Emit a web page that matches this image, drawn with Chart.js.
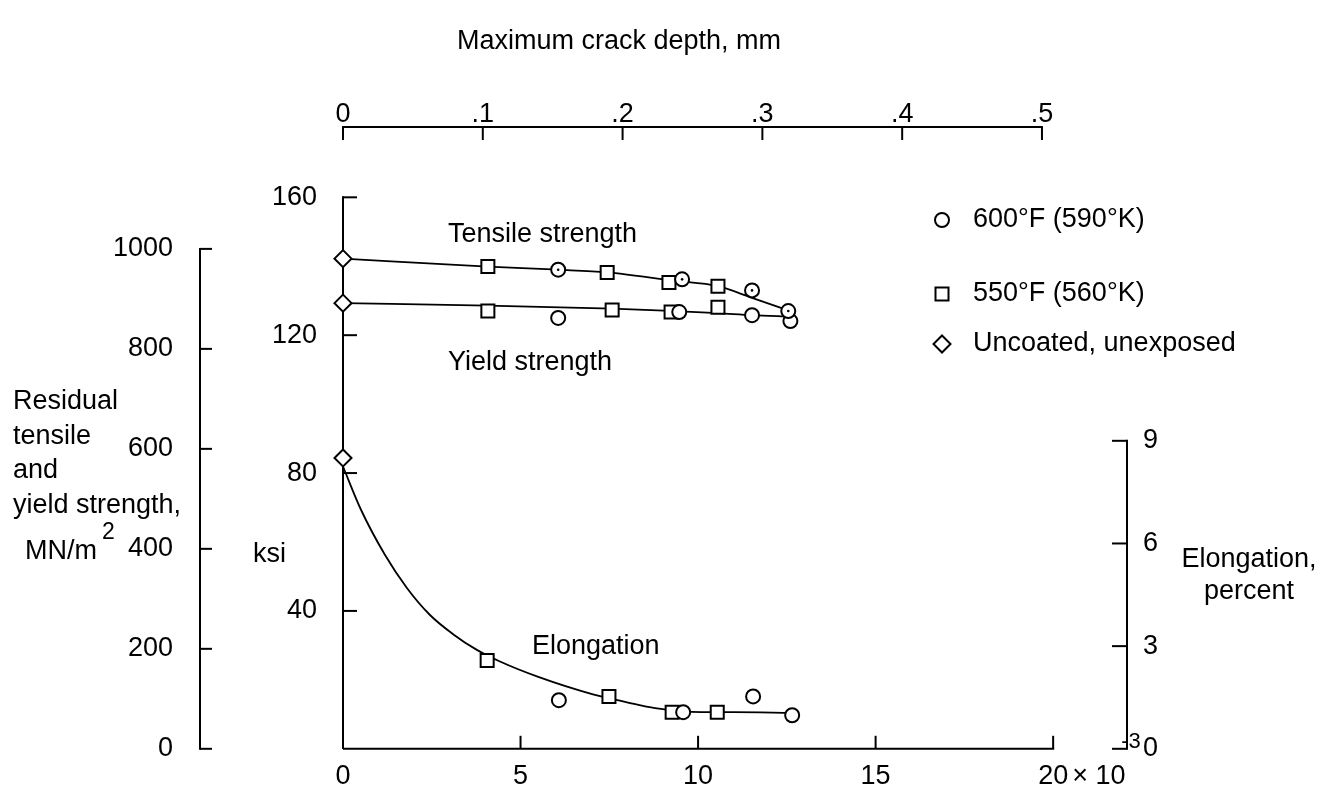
<!DOCTYPE html>
<html>
<head>
<meta charset="utf-8">
<title>Residual strength and elongation vs crack depth</title>
<script src="https://cdn.jsdelivr.net/npm/chart.js@4.4.1/dist/chart.umd.min.js"></script>
<style>
  html, body { margin: 0; padding: 0; background: #fff; }
  #wrap { width: 1321px; height: 792px; }
</style>
</head>
<body>
<div id="wrap"><canvas id="chart" width="1321" height="792"></canvas></div>
<script>
// Tick values of every scale
var xTickValues = [0, 5, 10, 15, 20];          // crack depth, 10^-3 in.
var mmTickValues = [0, 0.1, 0.2, 0.3, 0.4, 0.5]; // crack depth, mm
var ksiTickValues = [40, 80, 120, 160];
var mnTickValues = [0, 200, 400, 600, 800, 1000];
var elongTickValues = [0, 3, 6, 9];

// 600 F (590 K) specimens - circles
var c600TensileX = [6.06, 9.55, 11.52, 12.54];
var c600Tensile = [139.0, 136.2, 133.0, 127.0];
var c600YieldX = [6.06, 9.47, 11.52, 12.6];
var c600Yield = [125.0, 126.7, 125.8, 124.1];
var c600ElongX = [6.08, 9.58, 11.55, 12.65];
var c600Elong = [1.42, 1.07, 1.53, 0.98];

// 550 F (560 K) specimens - squares
var c550TensileX = [4.08, 7.44, 9.18, 10.56];
var c550Tensile = [139.9, 138.2, 135.3, 134.2];
var c550YieldX = [4.08, 7.58, 9.24, 10.56];
var c550Yield = [127.0, 127.3, 126.7, 128.1];
var c550ElongX = [4.06, 7.49, 9.27, 10.54];
var c550Elong = [2.58, 1.53, 1.07, 1.07];

// uncoated, unexposed - diamonds at zero crack depth
var baseX = [0];
var baseTensile = [142.2];
var baseYield = [129.3];
var baseElong = [8.5];

// faired curves
var tensileFitX = [0, 4.08, 6.06, 7.44, 9.3, 10.56, 11.5, 12.54];
var tensileFit = [142.2, 139.9, 139.0, 138.2, 135.8, 134.2, 130.9, 127.2];
var yieldFitX = [0, 4.08, 7.58, 9.3, 10.56, 11.52, 12.6];
var yieldFit = [129.3, 128.6, 127.7, 127.0, 126.4, 125.8, 125.4];
var elongFitX = [0, 0.5, 1.18, 1.8, 2.45, 3.1, 3.77, 4.42, 5.5, 7.04, 8.0, 8.79, 10.1, 11.0, 12.65];
var elongFit = [8.25, 7.0, 5.67, 4.7, 3.91, 3.35, 2.89, 2.55, 2.1, 1.59, 1.36, 1.19, 1.07, 1.07, 1.05];

// scale ranges (axes are drawn only over the ticked part)
var xMax = 22.08;
var ksiMax = 180.4;
var elongMax = 18.17;
var KSI_TO_MN = 6.89476;
var IN_TO_MM = 0.0254; // 10^-3 in. -> mm

var FONT = "'Liberation Sans', Arial, sans-serif";
Chart.defaults.font.family = FONT;
Chart.defaults.font.size = 27;
Chart.defaults.color = "#000";

function pts(xs, ys) {
  return xs.map(function (x, i) {
    return { x: x, y: ys[i] };
  });
}

function fitLine(xs, ys, axis) {
  return {
    data: pts(xs, ys),
    yAxisID: axis,
    showLine: true,
    borderColor: "#000",
    borderWidth: 1.8,
    pointRadius: 0,
    cubicInterpolationMode: "monotone",
    clip: false,
    order: 3,
  };
}

function marks(xs, ys, axis, style, r) {
  return {
    data: pts(xs, ys),
    yAxisID: axis,
    showLine: false,
    pointStyle: style,
    pointRadius: r,
    pointBackgroundColor: "#fff",
    pointBorderColor: "#000",
    pointBorderWidth: 2,
    clip: false,
    order: 2,
  };
}

function fixedTicks(values) {
  return function (scale) {
    scale.ticks = values.map(function (v) {
      return { value: v };
    });
  };
}

function line(ctx, x1, y1, x2, y2) {
  ctx.beginPath();
  ctx.moveTo(x1, y1);
  ctx.lineTo(x2, y2);
  ctx.stroke();
}

function text(ctx, str, x, y, align, size) {
  ctx.font = (size || 27) + "px " + FONT;
  ctx.textAlign = align || "left";
  ctx.textBaseline = "middle";
  ctx.fillText(str, x, y);
}

// axis lines, ticks and annotations drawn the drafting way
var drafting = {
  id: "drafting",
  beforeDatasetsDraw: function (chart) {
    var ctx = chart.ctx;
    var s = chart.scales;
    ctx.save();
    ctx.strokeStyle = "#000";
    ctx.lineWidth = 2;

    // ksi axis
    var xk = s.x.getPixelForValue(0);
    line(ctx, xk, s.ksi.getPixelForValue(160) - 1, xk, s.ksi.getPixelForValue(0));
    ksiTickValues.forEach(function (v) {
      var py = s.ksi.getPixelForValue(v);
      line(ctx, xk, py, xk + 14, py);
    });

    // MN/m2 axis
    var xm = s.mn.right;
    line(ctx, xm, s.mn.getPixelForValue(1000) - 1, xm, s.mn.getPixelForValue(0) + 1);
    mnTickValues.forEach(function (v) {
      var py = s.mn.getPixelForValue(v);
      line(ctx, xm, py, xm + 12, py);
    });

    // elongation axis
    var xe = s.elong.left;
    line(ctx, xe, s.elong.getPixelForValue(9) - 1, xe, s.elong.getPixelForValue(0) + 1);
    elongTickValues.forEach(function (v) {
      var py = s.elong.getPixelForValue(v);
      line(ctx, xe, py, xe - 15, py);
    });

    // bottom axis
    var yb = s.x.top;
    line(ctx, s.x.getPixelForValue(0), yb, s.x.getPixelForValue(20) + 1, yb);
    xTickValues.forEach(function (v) {
      var px = s.x.getPixelForValue(v);
      line(ctx, px, yb, px, yb - 13);
    });

    // top axis
    var yt = s.mm.bottom;
    line(ctx, s.mm.getPixelForValue(0) - 1, yt, s.mm.getPixelForValue(0.5) + 1, yt);
    mmTickValues.forEach(function (v) {
      var px = s.mm.getPixelForValue(v);
      line(ctx, px, yt, px, yt + 13);
    });
    ctx.restore();
  },
  afterDraw: function (chart) {
    var ctx = chart.ctx;
    var s = chart.scales;
    ctx.save();
    ctx.fillStyle = "#000";
    ctx.strokeStyle = "#000";
    ctx.lineWidth = 2;

    text(ctx, "Maximum crack depth, mm", 457, 42);

    // exponent after the last bottom label
    var x20 = s.x.getPixelForValue(20);
    text(ctx, "\u00d7 10", x20 + 19, 777);
    text(ctx, "-3", x20 + 68, 742, "left", 22);

    // curve labels
    text(ctx, "Tensile strength", 448, 235);
    text(ctx, "Yield strength", 448, 363);
    text(ctx, "Elongation", 532, 647);

    // left axis titles
    text(ctx, "ksi", 253, 555);
    text(ctx, "Residual", 13, 402);
    text(ctx, "tensile", 13, 437);
    text(ctx, "and", 13, 471);
    text(ctx, "yield strength,", 13, 506);
    text(ctx, "MN/m", 25, 552);
    text(ctx, "2", 102, 533, "left", 23);

    // right axis title
    text(ctx, "Elongation,", 1249, 560, "center");
    text(ctx, "percent", 1249, 592, "center");

    // legend
    var lx = 942;
    ctx.fillStyle = "#fff";
    ctx.beginPath();
    ctx.arc(lx, 220, 7, 0, Math.PI * 2);
    ctx.fill();
    ctx.stroke();
    ctx.fillRect(lx - 6.5, 287.5, 13, 13);
    ctx.strokeRect(lx - 6.5, 287.5, 13, 13);
    ctx.beginPath();
    ctx.moveTo(lx, 335.5);
    ctx.lineTo(lx + 8.5, 344);
    ctx.lineTo(lx, 352.5);
    ctx.lineTo(lx - 8.5, 344);
    ctx.closePath();
    ctx.fill();
    ctx.stroke();
    ctx.fillStyle = "#000";
    text(ctx, "600\u00b0F (590\u00b0K)", 973, 220);
    text(ctx, "550\u00b0F (560\u00b0K)", 973, 294);
    text(ctx, "Uncoated, unexposed", 973, 344);
    ctx.restore();
  },
};

var ctx = document.getElementById("chart").getContext("2d");
new Chart(ctx, {
  type: "scatter",
  data: {
    datasets: [
      fitLine(tensileFitX, tensileFit, "ksi"),
      fitLine(yieldFitX, yieldFit, "ksi"),
      fitLine(elongFitX, elongFit, "elong"),
      marks(c600TensileX, c600Tensile, "ksi", "circle", 7),
      marks(c600YieldX, c600Yield, "ksi", "circle", 7),
      marks(c600ElongX, c600Elong, "elong", "circle", 7),
      marks(c550TensileX, c550Tensile, "ksi", "rect", 9.2),
      marks(c550YieldX, c550Yield, "ksi", "rect", 9.2),
      marks(c550ElongX, c550Elong, "elong", "rect", 9.2),
      marks(baseX, baseTensile, "ksi", "rectRot", 8.5),
      marks(baseX, baseYield, "ksi", "rectRot", 8.5),
      marks(baseX, baseElong, "elong", "rectRot", 8.5),
      // centre dots of the tensile-strength circles
      {
        data: pts(c600TensileX, c600Tensile),
        yAxisID: "ksi",
        showLine: false,
        pointStyle: "circle",
        pointRadius: 1.3,
        pointBackgroundColor: "#000",
        pointBorderColor: "#000",
        pointBorderWidth: 0,
        clip: false,
        order: 1,
      },
    ],
  },
  options: {
    responsive: false,
    animation: false,
    devicePixelRatio: 1,
    layout: { padding: 0 },
    plugins: {
      legend: { display: false },
      tooltip: { enabled: false },
    },
    scales: {
      x: {
        type: "linear",
        position: "bottom",
        min: 0,
        max: xMax,
        grid: { display: false, drawTicks: false },
        border: { display: false },
        afterBuildTicks: fixedTicks(xTickValues),
        afterFit: function (scale) {
          scale.height = 37;
        },
        ticks: {
          padding: 12,
          maxRotation: 0,
          autoSkip: false,
          callback: function (v) {
            return String(v);
          },
        },
      },
      mm: {
        type: "linear",
        axis: "x",
        position: "top",
        min: 0,
        max: xMax * IN_TO_MM,
        grid: { display: false, drawTicks: false },
        border: { display: false },
        afterBuildTicks: fixedTicks(mmTickValues),
        afterFit: function (scale) {
          scale.height = 127;
        },
        ticks: {
          padding: -4,
          maxRotation: 0,
          autoSkip: false,
          callback: function (v) {
            return v === 0 ? "0" : "." + Math.round(v * 10);
          },
        },
      },
      ksi: {
        type: "linear",
        position: "left",
        weight: 0,
        min: 0,
        max: ksiMax,
        grid: { display: false, drawTicks: false },
        border: { display: false },
        afterBuildTicks: fixedTicks(ksiTickValues),
        afterFit: function (scale) {
          scale.width = 143;
        },
        ticks: {
          padding: 26,
          autoSkip: false,
          callback: function (v) {
            return String(v);
          },
        },
      },
      mn: {
        type: "linear",
        position: "left",
        weight: 1,
        min: 0,
        max: ksiMax * KSI_TO_MN,
        grid: { display: false, drawTicks: false },
        border: { display: false },
        afterBuildTicks: fixedTicks(mnTickValues),
        afterFit: function (scale) {
          scale.width = 200;
        },
        ticks: {
          padding: 27,
          autoSkip: false,
          callback: function (v) {
            return String(v);
          },
        },
      },
      elong: {
        type: "linear",
        position: "right",
        min: 0,
        max: elongMax,
        grid: { display: false, drawTicks: false },
        border: { display: false },
        afterBuildTicks: fixedTicks(elongTickValues),
        afterFit: function (scale) {
          scale.width = 194;
        },
        ticks: {
          padding: 16,
          autoSkip: false,
          callback: function (v) {
            return String(v);
          },
        },
      },
    },
  },
  plugins: [drafting],
});
</script>
</body>
</html>
